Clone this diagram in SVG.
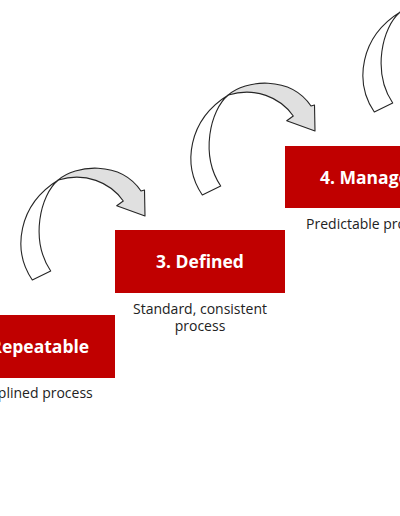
<svg xmlns="http://www.w3.org/2000/svg" width="400" height="516" viewBox="0 0 400 516">
<defs>
<style>
.box{fill:#C00000;}
.title{font-family:"Open Sans",sans-serif;font-weight:bold;font-size:17.5px;fill:#FFFFFF;text-anchor:middle;}
.sub{font-family:"Open Sans",sans-serif;font-size:14px;fill:#222222;text-anchor:middle;}
.back{fill:#FFFFFF;stroke:#262626;stroke-width:1.1;stroke-linejoin:round;}
.front{fill:#E0E0E0;stroke:#262626;stroke-width:1.1;stroke-linejoin:round;}
</style>
<g id="curvedArrow">
<path class="back" d="M32.3,280 C12,250 18,205 58.3,180 C40,195 30,240 50.7,271 Z"/>
<path class="front" d="M58.3,180 C75,165 120,160 141,191 L144.5,190 L145,216 L116.7,205.7 L123.3,201 C110,182 85,172 58.3,180 Z"/>
</g>
</defs>
<rect width="400" height="516" fill="#FFFFFF"/>
<g id="connectors">
<use href="#curvedArrow"/>
<use href="#curvedArrow" transform="translate(170,-85)"/>
<use href="#curvedArrow" transform="translate(342,-168)"/>
</g>
<g id="node-repeatable">
<rect class="box" x="-55" y="315" width="170" height="63"/>
<text class="title" x="30" y="353">2. Repeatable</text>
<text class="sub" x="30" y="398">Disciplined process</text>
</g>
<g id="node-defined">
<rect class="box" x="115" y="230" width="170" height="63"/>
<text class="title" x="200" y="268">3. Defined</text>
<text class="sub" x="200" y="314">Standard, consistent</text>
<text class="sub" x="200" y="331">process</text>
</g>
<g id="node-managed">
<rect class="box" x="285" y="146" width="170" height="62"/>
<text class="title" x="370" y="184">4. Managed</text>
<text class="sub" x="370" y="229">Predictable process</text>
</g>
</svg>
